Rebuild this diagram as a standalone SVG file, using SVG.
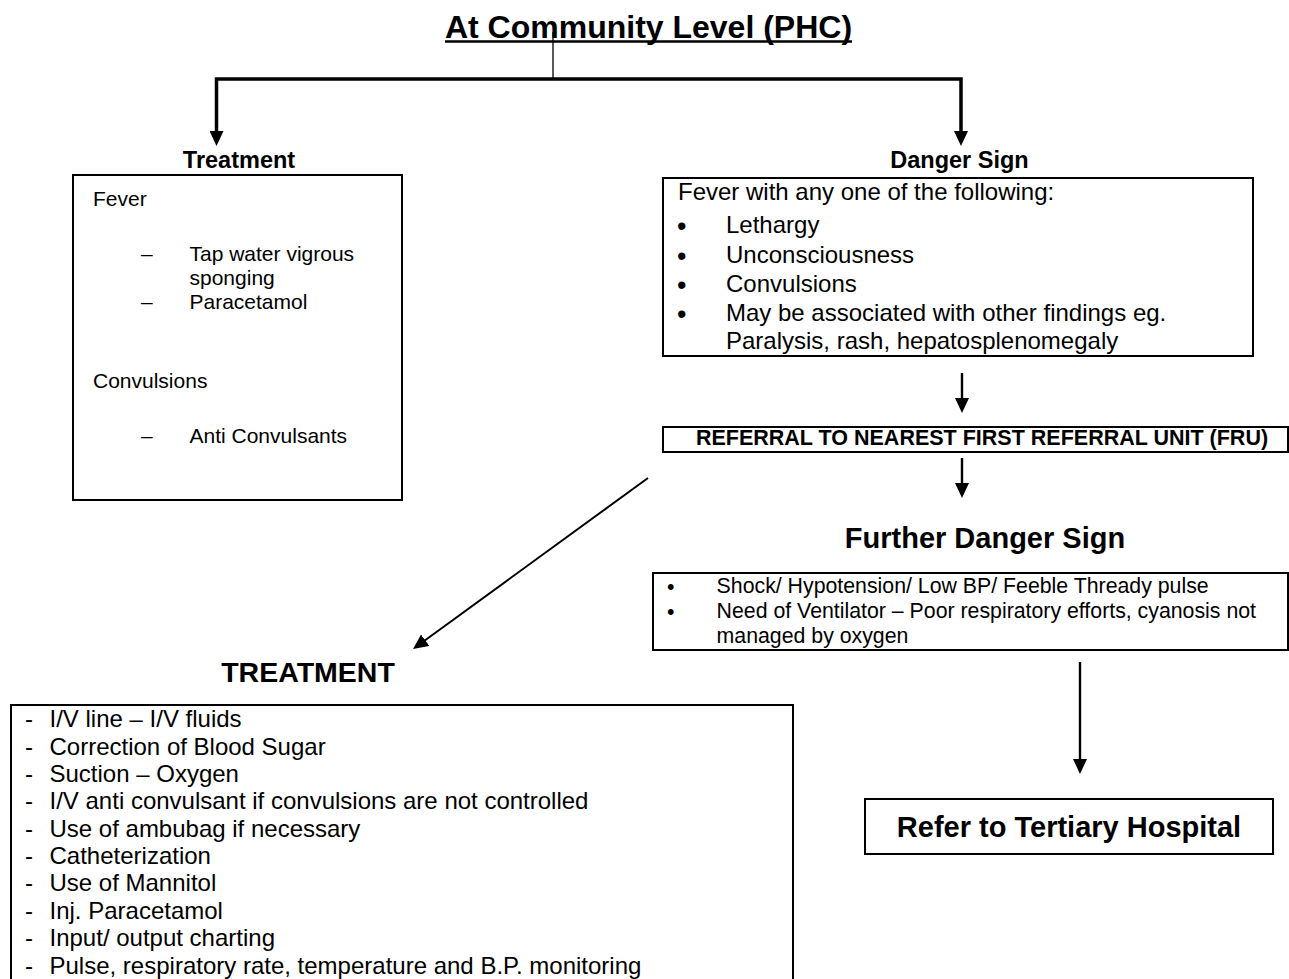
<svg xmlns="http://www.w3.org/2000/svg" width="1289" height="979" viewBox="0 0 1289 979">
<style>
text { font-family: "Liberation Sans", Arial, sans-serif; fill: #000; }
.b { font-weight: bold; }
.c { text-anchor: middle; }
.box { fill: #fff; stroke: #000; stroke-width: 2; }
.conn { fill: none; stroke: #000; stroke-width: 2.4; }
.thick { stroke-width: 3.5; }
.s21 { font-size: 21px; }
.s24 { font-size: 24px; }
.fs { font-size: 21.3px; }
.bul { font-size: 27px; }
</style>
<defs>
<marker id="ah" viewBox="0 0 15 14" refX="6" refY="7" markerWidth="15" markerHeight="14" markerUnits="userSpaceOnUse" orient="auto">
<path d="M0,0 L15,7 L0,14 z" fill="#000"/>
</marker>
</defs>
<rect width="1289" height="979" fill="#fff"/>

<g id="connectors">
<path class="conn" style="stroke-width:1.3" d="M553,32 V79"/>
<path class="conn thick" d="M553,79 H216.5 V137" marker-end="url(#ah)"/>
<path class="conn thick" d="M553,79 H961 V137" marker-end="url(#ah)"/>
<path class="conn" d="M962,373 V404" marker-end="url(#ah)"/>
<path class="conn" d="M962,458 V489" marker-end="url(#ah)"/>
<path class="conn" d="M1080,662 V765" marker-end="url(#ah)"/>
<path class="conn" style="stroke-width:2" d="M648,478 L420.3,643.7" marker-end="url(#ah)"/>
</g>

<g id="title">
<text class="b c" x="648.5" y="38" font-size="32">At Community Level (PHC)</text>
<line x1="445" y1="41.5" x2="852" y2="41.5" stroke="#000" stroke-width="2.6"/>
</g>

<g id="treatment">
<text class="b c" x="239" y="168" font-size="23.5">Treatment</text>
<rect class="box" x="73" y="175" width="329" height="325"/>
<g class="s21">
<text x="93" y="206">Fever</text>
<text x="141" y="261">–</text><text x="189.5" y="261">Tap water vigrous</text>
<text x="189.5" y="285">sponging</text>
<text x="141" y="309">–</text><text x="189.5" y="309">Paracetamol</text>
<text x="93" y="388">Convulsions</text>
<text x="141" y="443">–</text><text x="189.5" y="443">Anti Convulsants</text>
</g>
</g>

<g id="danger-sign">
<text class="b c" x="959.5" y="168" font-size="23.5">Danger Sign</text>
<rect class="box" x="663" y="178" width="590" height="178"/>
<g class="s24">
<text x="678" y="200">Fever with any one of the following:</text>
<text class="bul" x="677" y="234.5">•</text><text x="726" y="233">Lethargy</text>
<text class="bul" x="677" y="264.5">•</text><text x="726" y="263">Unconsciousness</text>
<text class="bul" x="677" y="293.5">•</text><text x="726" y="292">Convulsions</text>
<text class="bul" x="677" y="322.5">•</text><text x="726" y="321">May be associated with other findings eg.</text>
<text x="726" y="349">Paralysis, rash, hepatosplenomegaly</text>
</g>
</g>

<g id="referral">
<rect class="box" x="663" y="427" width="625" height="25"/>
<text class="b c" x="982" y="445" font-size="21.5">REFERRAL TO NEAREST FIRST REFERRAL UNIT (FRU)</text>
</g>

<g id="further-danger-sign">
<text class="b c" x="985" y="548" font-size="29">Further Danger Sign</text>
<rect class="box" x="653" y="573" width="635" height="77"/>
<g class="fs">
<text x="667" y="594">•</text><text x="716.6" y="593">Shock/ Hypotension/ Low BP/ Feeble Thready pulse</text>
<text x="667" y="619">•</text><text x="716.6" y="618">Need of Ventilator – Poor respiratory efforts, cyanosis not</text>
<text x="716.6" y="643">managed by oxygen</text>
</g>
</g>

<g id="tertiary">
<rect class="box" x="865" y="799" width="408" height="55"/>
<text class="b c" x="1069" y="837" font-size="29">Refer to Tertiary Hospital</text>
</g>

<g id="treatment-fru">
<text class="b c" x="308" y="682" font-size="28.5">TREATMENT</text>
<rect class="box" x="11" y="705" width="782" height="300"/>
<g class="s24">
<text x="25" y="727">-</text><text x="49.5" y="727">I/V line – I/V fluids</text>
<text x="25" y="755">-</text><text x="49.5" y="755">Correction of Blood Sugar</text>
<text x="25" y="782">-</text><text x="49.5" y="782">Suction – Oxygen</text>
<text x="25" y="809">-</text><text x="49.5" y="809">I/V anti convulsant if convulsions are not controlled</text>
<text x="25" y="837">-</text><text x="49.5" y="837">Use of ambubag if necessary</text>
<text x="25" y="864">-</text><text x="49.5" y="864">Catheterization</text>
<text x="25" y="891">-</text><text x="49.5" y="891">Use of Mannitol</text>
<text x="25" y="919">-</text><text x="49.5" y="919">Inj. Paracetamol</text>
<text x="25" y="946">-</text><text x="49.5" y="946">Input/ output charting</text>
<text x="25" y="974">-</text><text x="49.5" y="974">Pulse, respiratory rate, temperature and B.P. monitoring</text>
</g>
</g>
</svg>
